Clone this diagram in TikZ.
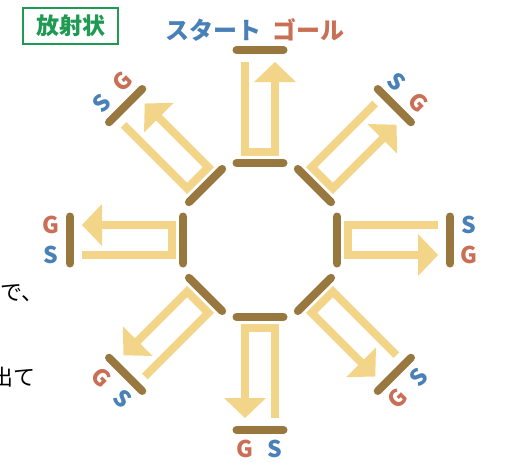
\documentclass[tikz,border=0pt]{standalone}
\usepackage{fontspec}
\newfontfamily\jp{Noto Sans CJK JP}
\definecolor{barc}{HTML}{98783F}
\definecolor{arrc}{HTML}{F3D58A}
\definecolor{sblue}{HTML}{4A80B8}
\definecolor{gred}{HTML}{C96F55}
\definecolor{tgreen}{HTML}{1E9A52}
\tikzset{
  barline/.style={line width=8pt, line cap=round, draw=barc},
  uarrow/.style={line width=8pt, draw=arrc, line join=miter},
  ahead/.style={fill=arrc},
  slab/.style={text=sblue, font=\jp\bfseries\fontsize{23}{23}\selectfont, inner sep=0pt},
  glab/.style={text=gred, font=\jp\bfseries\fontsize{23}{23}\selectfont, inner sep=0pt},
  toplab/.style={font=\jp\bfseries\fontsize{24}{24}\selectfont, inner sep=0pt},
  sidetxt/.style={font=\jp\fontsize{22}{22}\selectfont, inner sep=0pt, anchor=west}
}
\begin{document}
\begin{tikzpicture}[x=1pt,y=1pt]
\useasboundingbox (0,0) rectangle (522,-463);
\coordinate (O) at (260,-240);
% title
\node[draw=tgreen, line width=1.5pt, minimum width=95pt, minimum height=36pt,
      text=tgreen, font=\jp\bfseries\fontsize{23}{23}\selectfont, inner sep=0pt] (title) at (70.5,-26) {放射状};
% side text (the second line is cut at the edge as in the reference)
\node[sidetxt] (t1) at (0,-293) {で、};
\node[sidetxt] (t2) at (-9,-377) {出て};
% eight arms
\foreach \a in {0,45,...,315} {
  \begin{scope}[shift={(O)}, rotate=\a]
    \draw[barline] (77,-23.5) -- (77,23.5);
    \draw[barline] (190,-23.5) -- (190,23.5);
    \draw[uarrow] (178,15) -- (88,15) -- (88,-15) -- (160,-15);
    \fill[ahead] (178,-15) -- (158,-36) -- (158,6) -- cycle;
  \end{scope}
}
% S / G labels
\foreach \a/\r in {0/0,45/-45,135/45,180/0,225/-45,270/0,315/45} {
  \path (O) ++(\a:209) ++(\a+90:15) node[slab, rotate=\r] (s\a) {S};
  \path (O) ++(\a:209) ++(\a-90:15) node[glab, rotate=\r] (g\a) {G};
}
\node[toplab, text=sblue] (start) at (213,-30) {スタート};
\node[toplab, text=gred] (goal) at (308,-30) {ゴール};
\end{tikzpicture}
\end{document}
